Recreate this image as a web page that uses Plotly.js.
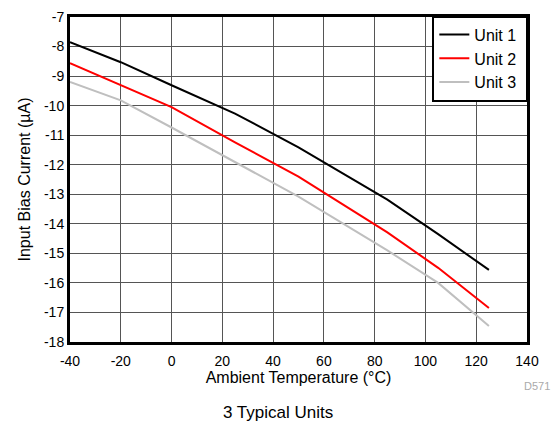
<!DOCTYPE html>
<html>
<head>
<meta charset="utf-8">
<script src="https://cdn.plot.ly/plotly-3.0.1.min.js"></script>
<style>html,body{margin:0;padding:0;background:#fff;}#chart{width:553px;height:426px;}</style>
</head>
<body>
<div id="chart"></div>
<script>
const temps = [-40, -20, 0, 25, 50, 85, 105, 125];
const unit1 = [-7.85, -8.53, -9.31, -10.27, -11.41, -13.18, -14.35, -15.56];
const unit2 = [-8.56, -9.31, -10.05, -11.24, -12.4, -14.29, -15.49, -16.85];
const unit3 = [-9.2, -9.82, -10.74, -11.92, -13.08, -14.9, -16.0, -17.46];
const seriesNames = ['Unit 1', 'Unit 2', 'Unit 3'];
const seriesColors = ['#000000', '#ff0000', '#bfbfbf'];
const xTicks = [-40, -20, 0, 20, 40, 60, 80, 100, 120, 140];
const yTicks = [-18, -17, -16, -15, -14, -13, -12, -11, -10, -9, -8, -7];

const font = 'Liberation Sans, Arial, sans-serif';
const data = [unit1, unit2, unit3].map((ys, i) => ({
  x: temps, y: ys, type: 'scatter', mode: 'lines', name: seriesNames[i] + '\u00a0',
  line: {color: seriesColors[i], width: 2}
}));

const layout = {
  width: 553, height: 426,
  margin: {l: 70, r: 26, t: 17, b: 84},
  paper_bgcolor: '#fff', plot_bgcolor: '#fff',
  font: {family: font, size: 14, color: '#000'},
  showlegend: true,
  legend: {x: 1.004, xanchor: 'right', y: 1.006, yanchor: 'top', bgcolor: '#fff',
    bordercolor: '#000', borderwidth: 2.5, font: {family: font, size: 16},
    tracegroupgap: 0, itemwidth: 30},
  xaxis: {range: [-40, 140], tickvals: xTicks, ticktext: xTicks.map(String),
    showgrid: true, gridcolor: '#555', gridwidth: 1, zeroline: false,
    showline: true, linecolor: '#000', linewidth: 3, mirror: true, ticks: '',
    tickfont: {family: font, size: 14}, ticklabelstandoff: 4,
    title: {text: 'Ambient Temperature (°C)', font: {family: font, size: 16}, standoff: 4}},
  yaxis: {range: [-18, -7], tickvals: yTicks, ticktext: yTicks.map(String),
    showgrid: true, gridcolor: '#555', gridwidth: 1, zeroline: false,
    showline: true, linecolor: '#000', linewidth: 3, mirror: true, ticks: '',
    tickfont: {family: font, size: 14},
    title: {text: 'Input Bias Current (µA)', font: {family: font, size: 16}, standoff: 10}},
  annotations: [
    {text: 'D571', xref: 'paper', yref: 'paper', x: 1.055, y: -0.135, xanchor: 'right', yanchor: 'middle',
     showarrow: false, font: {family: font, size: 11, color: '#aaa'}},
    {text: '3 Typical Units', xref: 'paper', yref: 'paper', x: 0.455, y: -0.218, xanchor: 'center', yanchor: 'middle',
     showarrow: false, font: {family: font, size: 17, color: '#000'}}
  ]
};
Plotly.newPlot('chart', data, layout, {displayModeBar: false, staticPlot: true});
</script>
</body>
</html>
